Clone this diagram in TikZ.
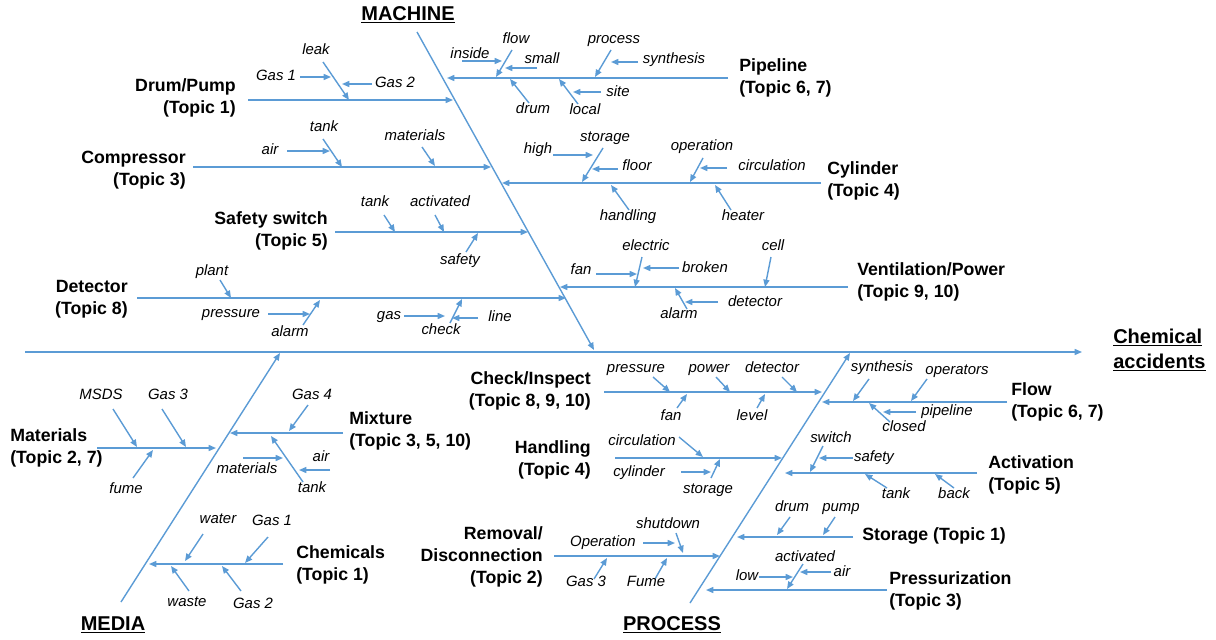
\documentclass[tikz,border=0pt]{standalone}
\usepackage{fontspec}
\setmainfont{Liberation Sans}
\usetikzlibrary{arrows.meta}
\definecolor{bl}{RGB}{91,155,213}
\tikzset{
 ln/.style={draw=bl, line width=1.05pt, -{Triangle[length=5.5pt,width=4.5pt]}},
 lab/.style={font=\fontsize{11.2}{13}\selectfont\itshape, inner sep=0pt, text height=8pt, text depth=2.2pt},
 cat/.style={font=\fontsize{13.3}{16.5}\selectfont\bfseries, inner sep=0pt},
 catr/.style={cat, anchor=east, align=right},
 catl/.style={cat, anchor=west, align=left},
 hdr/.style={font=\fontsize{15}{18.5}\selectfont\bfseries, inner sep=0pt},
}
\newcommand\fb[3]{\coordinate (#1s) at (#2); \coordinate (#1e) at (#3); \draw[ln] (#1s) -- (#1e);}
\begin{document}
\begin{tikzpicture}[x=0.75pt,y=-0.75pt]
\useasboundingbox (0,0) rectangle (1216,639);
% headers
\node[hdr] (hMachine) at (408,15) {\underline{MACHINE}};
\node[hdr] (hMedia) at (113,625) {\underline{MEDIA}};
\node[hdr] (hProcess) at (672,625) {\underline{PROCESS}};
\node[hdr, anchor=west, align=left] (hChem) at (1113,350) {\underline{Chemical}\\\underline{accidents}};
% spine and main bones
\fb{spine}{25,352}{1082,352}
\fb{mach}{417,32}{594,350}
\fb{media}{121,602}{280,353}
\fb{proc}{690,603}{850,353}
% ===== MACHINE =====
\node[catr] (cDrum) at (236,98) {Drum/Pump\\(Topic 1)};
\fb{drum}{248,100}{453,100}
\fb{leak}{323,62}{349,100}
\fb{gasA}{300,77}{331,77}
\fb{gasB}{372,84}{342,84}
\node[lab] (tleak) at (316,51) {leak};
\node[lab] (tgasA) at (276,77) {Gas 1};
\node[lab] (tgasB) at (395,84) {Gas 2};

\node[catr] (cComp) at (186,170.5) {Compressor\\(Topic 3)};
\fb{comp}{193,167}{491,167}
\fb{tankA}{323,139}{342,167}
\fb{airA}{287,151}{330,151}
\fb{matA}{422,147}{435,166}
\node[lab] (ttankA) at (324,128) {tank};
\node[lab] (tairA) at (270,151) {air};
\node[lab] (tmatA) at (415,137) {materials};

\node[catr] (cSafe) at (328,230.5) {Safety switch\\(Topic 5)};
\fb{safe}{335,232}{528,232}
\fb{tankB}{384,215}{395,232}
\fb{actA}{435,215}{444,232}
\fb{safA}{466,252}{478,233}
\node[lab] (ttankB) at (375,203) {tank};
\node[lab] (tactA) at (440,203) {activated};
\node[lab] (tsafA) at (460,261) {safety};

\node[catr] (cDet) at (128,299) {Detector\\(Topic 8)};
\fb{det}{137,298}{566,298}
\fb{plant}{220,280}{231,298}
\fb{presA}{268,314}{310,314}
\fb{alarmA}{303,325}{320,300}
\fb{gasC}{404,316}{445,316}
\fb{check}{450,323}{462,299}
\fb{line}{478,318}{452,318}
\node[lab] (tplant) at (212,272) {plant};
\node[lab] (tpresA) at (231,314) {pressure};
\node[lab] (talarmA) at (290,333) {alarm};
\node[lab] (tgasC) at (389,316) {gas};
\node[lab] (tcheck) at (441,331) {check};
\node[lab] (tline) at (500,318) {line};

\node[catl] (cPipe) at (739,78) {Pipeline\\(Topic 6, 7)};
\fb{pipe}{728,78}{447,78}
\fb{inside}{462,61}{502,61}
\fb{flowA}{512,50}{496,77}
\fb{small}{537,68}{505,68}
\fb{procA}{611,50}{595,77}
\fb{synA}{638,62}{611,62}
\fb{drumA}{529,103}{510,79}
\fb{local}{578,104}{559,79}
\fb{site}{601,92}{573,92}
\node[lab] (tinside) at (470,55) {inside};
\node[lab] (tflowA) at (516,40) {flow};
\node[lab] (tsmall) at (542,60) {small};
\node[lab] (tprocA) at (614,40) {process};
\node[lab] (tsynA) at (674,60) {synthesis};
\node[lab] (tdrumA) at (533,110) {drum};
\node[lab] (tlocal) at (585,111) {local};
\node[lab] (tsite) at (618,93) {site};

\node[catl] (cCyl) at (827,181) {Cylinder\\(Topic 4)};
\fb{cyl}{821,183}{502,183}
\fb{high}{553,155}{593,155}
\fb{storA}{603,148}{582,182}
\fb{floor}{618,169}{592,169}
\fb{oper}{703,158}{690,182}
\fb{circA}{727,168}{700,168}
\fb{hand}{629,210}{611,185}
\fb{heater}{731,210}{715,185}
\node[lab] (thigh) at (538,150) {high};
\node[lab] (tstorA) at (605,138) {storage};
\node[lab] (tfloor) at (637,167) {floor};
\node[lab] (toper) at (702,147) {operation};
\node[lab] (tcircA) at (772,167) {circulation};
\node[lab] (thand) at (628,217) {handling};
\node[lab] (theater) at (743,217) {heater};

\node[catl] (cVent) at (857,282) {Ventilation/Power\\(Topic 9, 10)};
\fb{vent}{848,287}{560,287}
\fb{elec}{642,257}{635,287}
\fb{fanA}{596,274}{637,274}
\fb{broken}{679,268}{643,268}
\fb{cell}{771,257}{765,287}
\fb{alarmB}{687,309}{675,288}
\fb{detA}{718,302}{685,302}
\node[lab] (telec) at (646,247) {electric};
\node[lab] (tfanA) at (581,271) {fan};
\node[lab] (tbroken) at (705,269) {broken};
\node[lab] (tcell) at (773,247) {cell};
\node[lab] (talarmB) at (679,315) {alarm};
\node[lab] (tdetA) at (755,303) {detector};
% ===== MEDIA =====
\node[catl] (cMat) at (10,448) {Materials\\(Topic 2, 7)};
\fb{mat}{97,448}{216,448}
\fb{msds}{113,409}{137,447}
\fb{gasD}{162,409}{186,447}
\fb{fumeA}{133,478}{153,450}
\node[lab] (tmsds) at (101,396) {MSDS};
\node[lab] (tgasD) at (168,396) {Gas 3};
\node[lab] (tfumeA) at (126,490) {fume};

\node[catl] (cMix) at (349,431) {Mixture\\(Topic 3, 5, 10)};
\fb{mix}{343,433}{230,433}
\fb{gasE}{308,405}{289,431}
\fb{tankC}{303,482}{271,436}
\fb{matB}{243,458}{283,458}
\fb{airB}{330,470}{299,470}
\node[lab] (tgasE) at (312,396) {Gas 4};
\node[lab] (ttankC) at (312,489) {tank};
\node[lab] (tmatB) at (247,470) {materials};
\node[lab] (tairB) at (321,458) {air};

\node[catl] (cChem) at (296,565) {Chemicals\\(Topic 1)};
\fb{chem}{283,564}{149,564}
\fb{water}{203,534}{185,561}
\fb{gasF}{268,537}{245,563}
\fb{waste}{189,591}{171,566}
\fb{gasG}{241,591}{222,566}
\node[lab] (twater) at (218,520) {water};
\node[lab] (tgasF) at (272,522) {Gas 1};
\node[lab] (twaste) at (187,603) {waste};
\node[lab] (tgasG) at (253,605) {Gas 2};
% ===== PROCESS =====
\node[catr] (cCheck) at (591,390.5) {Check/Inspect\\(Topic 8, 9, 10)};
\fb{chk}{604,392}{822,392}
\fb{presB}{653,377}{670,392}
\fb{power}{716,377}{730,392}
\fb{detB}{782,377}{797,392}
\fb{fanB}{677,408}{687,394}
\fb{level}{757,408}{765,394}
\node[lab] (tpresB) at (636,369) {pressure};
\node[lab] (tpower) at (709,369) {power};
\node[lab] (tdetB) at (772,369) {detector};
\node[lab] (tfanB) at (671,417) {fan};
\node[lab] (tlevel) at (752,417) {level};

\node[catr] (cHand) at (591,460) {Handling\\(Topic 4)};
\fb{handB}{615,458}{782,458}
\fb{circB}{679,437}{703,457}
\fb{cylB}{681,472}{711,472}
\fb{storB}{711,478}{720,459}
\node[lab] (tcircB) at (642,442) {circulation};
\node[lab] (tcylB) at (639,473) {cylinder};
\node[lab] (tstorB) at (708,490) {storage};

\node[catr] (cRem) at (543,557) {Removal/\\Disconnection\\(Topic 2)};
\fb{rem}{554,556}{720,556}
\fb{operB}{643,543}{675,543}
\fb{shut}{676,533}{683,553}
\fb{gasH}{594,579}{607,558}
\fb{fumeB}{655,579}{667,558}
\node[lab] (toperB) at (603,543) {Operation};
\node[lab] (tshut) at (668,525) {shutdown};
\node[lab] (tgasH) at (586,583) {Gas 3};
\node[lab] (tfumeB) at (646,583) {Fume};

\node[catl] (cFlow) at (1011,402) {Flow\\(Topic 6, 7)};
\fb{flowB}{1007,402}{822,402}
\fb{synB}{869,379}{853,401}
\fb{operators}{927,379}{911,401}
\fb{closed}{890,422}{869,403}
\fb{pipeB}{916,412}{883,412}
\node[lab] (tsynB) at (882,368) {synthesis};
\node[lab] (toperators) at (957,371) {operators};
\node[lab] (tclosed) at (904,428) {closed};
\node[lab] (tpipeB) at (947,412) {pipeline};

\node[catl] (cAct) at (988,474.5) {Activation\\(Topic 5)};
\fb{act}{977,473}{785,473}
\fb{switch}{823,446}{810,472}
\fb{safB}{853,458}{819,458}
\fb{tankD}{887,488}{865,474}
\fb{back}{954,488}{935,474}
\node[lab] (tswitch) at (831,439) {switch};
\node[lab] (tsafB) at (874,458) {safety};
\node[lab] (ttankD) at (896,495) {tank};
\node[lab] (tback) at (954,495) {back};

\node[catl] (cStor) at (862,536) {Storage (Topic 1)};
\fb{stor}{853,537}{737,537}
\fb{drumB}{790,517}{777,535}
\fb{pump}{835,517}{823,535}
\node[lab] (tdrumB) at (792,508) {drum};
\node[lab] (tpump) at (841,508) {pump};

\node[catl] (cPres) at (889,591) {Pressurization\\(Topic 3)};
\fb{pres}{887,590}{706,590}
\fb{actB}{803,564}{787,589}
\fb{low}{759,577}{793,577}
\fb{airC}{831,572}{800,572}
\node[lab] (tactB) at (805,558) {activated};
\node[lab] (tlow) at (747,577) {low};
\node[lab] (tairC) at (842,573) {air};
\end{tikzpicture}
\end{document}
